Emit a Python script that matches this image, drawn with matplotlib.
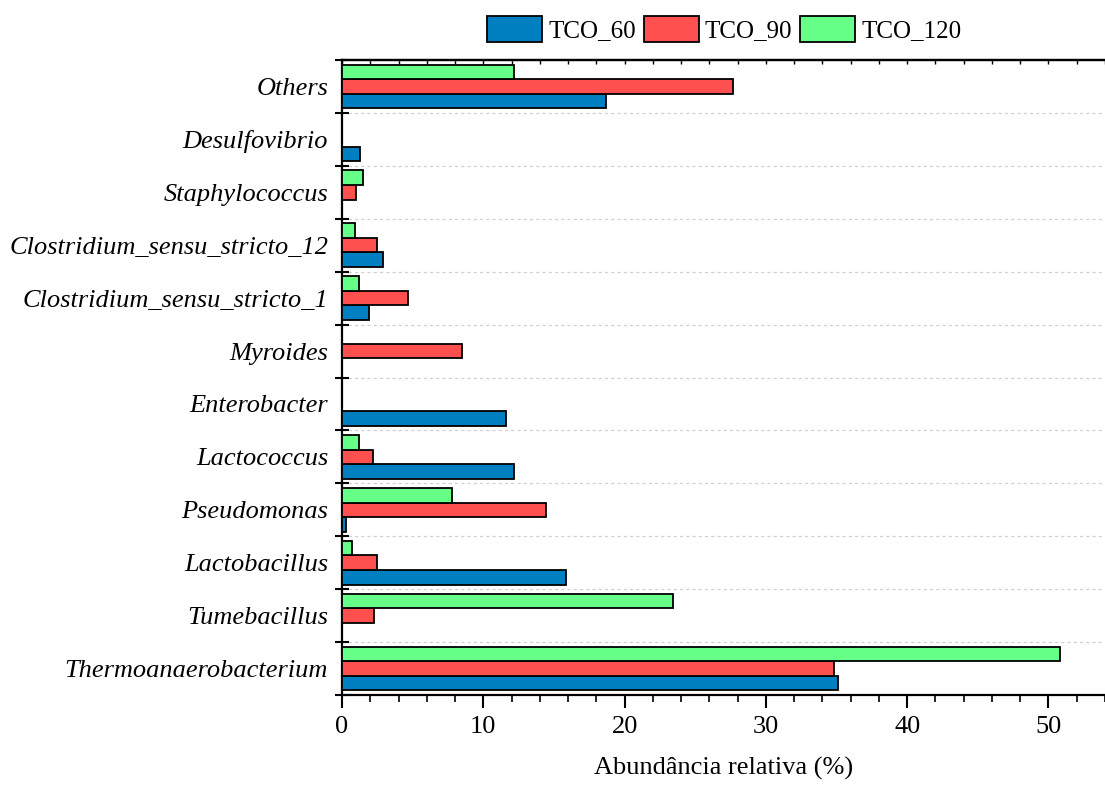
import matplotlib
matplotlib.use("Agg")
import matplotlib.pyplot as plt
from matplotlib.patches import Patch
from matplotlib.ticker import MultipleLocator
import numpy as np

plt.rcParams['font.family'] = ['Liberation Serif', 'DejaVu Serif']

genera = ["Thermoanaerobacterium", "Tumebacillus", "Lactobacillus", "Pseudomonas",
          "Lactococcus", "Enterobacter", "Myroides", "Clostridium_sensu_stricto_1",
          "Clostridium_sensu_stricto_12", "Staphylococcus", "Desulfovibrio", "Others"]
tco_60 = [35.1, 0.0, 15.85, 0.25, 12.15, 11.6, 0.0, 1.9, 2.9, 0.0, 1.3, 18.7]
tco_90 = [34.8, 2.3, 2.5, 14.45, 2.2, 0.0, 8.5, 4.7, 2.5, 1.0, 0.0, 27.7]
tco_120 = [50.8, 23.4, 0.7, 7.8, 1.2, 0.0, 0.0, 1.2, 0.9, 1.5, 0.0, 12.2]

series = [("TCO_60", tco_60, "#007FC1"),
          ("TCO_90", tco_90, "#FF5050"),
          ("TCO_120", tco_120, "#66FF88")]

fig = plt.figure(figsize=(11.05, 7.85), dpi=100)
ax = fig.add_axes([0.3095, 0.1146, 0.6905, 0.809])

y = np.arange(len(genera))
h = 0.275
offsets = [-h, 0.0, h]
for (name, vals, col), off in zip(series, offsets):
    ax.barh(y + off, vals, height=h, color=col, edgecolor="black", linewidth=1.3, zorder=3)

ax.set_xlim(0, 54)
ax.set_ylim(-0.5, len(genera) - 0.5)

# category labels at group centres, boundaries carry the ticks and grid
ax.set_yticks(y)
ax.set_yticklabels(genera, fontsize=19, style="italic")
ax.tick_params(axis="y", which="major", length=0, pad=10)
ax.set_yticks(np.arange(len(genera) + 1) - 0.5, minor=True)
ax.tick_params(axis="y", which="minor", direction="inout", length=10, width=1.5)
ax.grid(axis="y", which="minor", linestyle=(0, (2.5, 2.5)), color="#d0d0d0", linewidth=0.9, zorder=0)

ax.xaxis.set_major_locator(MultipleLocator(10))
ax.xaxis.set_minor_locator(MultipleLocator(2))
ax.tick_params(axis="x", which="major", direction="out", length=9, width=1.5, labelsize=19, pad=6)
ax.tick_params(axis="x", which="minor", direction="out", length=5, width=1.2)

# inward ticks along the top spine, without labels
top = ax.secondary_xaxis("top")
top.xaxis.set_major_locator(MultipleLocator(10))
top.xaxis.set_minor_locator(MultipleLocator(2))
top.tick_params(axis="x", which="both", direction="in", length=3, width=1.0, labeltop=False)
top.spines["top"].set_linewidth(1.6)

ax.set_xlabel("Abundância relativa (%)", fontsize=19, labelpad=14)

for side in ["left", "bottom", "top"]:
    ax.spines[side].set_linewidth(1.6)
ax.spines["right"].set_visible(False)

handles = [Patch(facecolor=c, edgecolor="black", linewidth=1.3, label=n) for n, _, c in series]
fig.legend(handles=handles, loc="center", bbox_to_anchor=(0.6555, 0.963), ncol=3, frameon=False,
           fontsize=18, handlelength=2.2, handleheight=1.25, handletextpad=0.25, columnspacing=0.3,
           borderpad=0.1)

fig.savefig("out.png", dpi=100)
